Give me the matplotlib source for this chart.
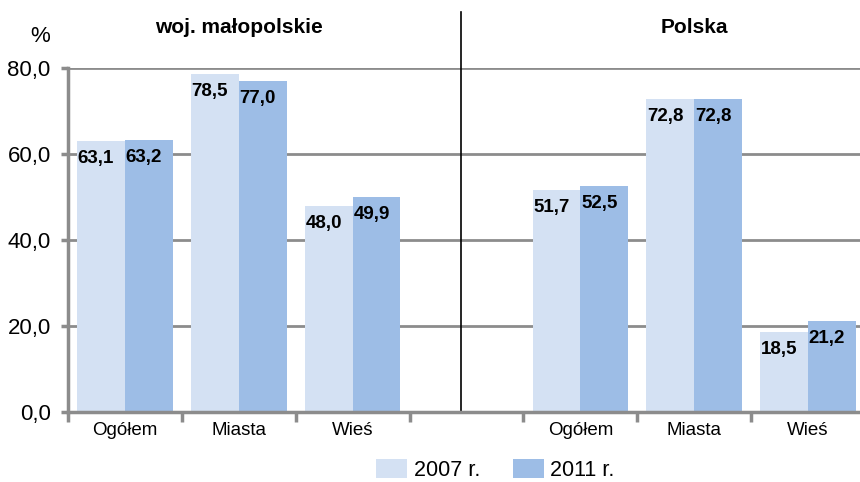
import numpy as np
import matplotlib.pyplot as plt

plt.rcParams["font.family"] = ["Liberation Sans", "DejaVu Sans"]

categories = ["Ogółem", "Miasta", "Wieś", "", "Ogółem", "Miasta", "Wieś"]
values_2007 = [63.1, 78.5, 48.0, None, 51.7, 72.8, 18.5]
values_2011 = [63.2, 77.0, 49.9, None, 52.5, 72.8, 21.2]
series_names = ["2007 r.", "2011 r."]
yticks = [0, 20, 40, 60, 80]

c2007 = "#D4E1F3"
c2011 = "#9DBDE6"
grey = "#8C8C8C"

fig = plt.figure(figsize=(8.6, 4.82), dpi=100)
ax = fig.add_axes([68 / 860, 70 / 482, 797 / 860, 344 / 482])

x = np.arange(len(categories))
w = 0.42
for i, (a, b) in enumerate(zip(values_2007, values_2011)):
    if a is None:
        continue
    ax.bar(i - w / 2, a, w, color=c2007, label=series_names[0] if i == 0 else None)
    ax.bar(i + w / 2, b, w, color=c2011, label=series_names[1] if i == 0 else None)
    for xpos, v in ((i - w, a), (i, b)):
        ax.annotate(f"{v:.1f}".replace(".", ","), (xpos, v), xytext=(0.5, -6.5),
                    textcoords="offset points", ha="left", va="top",
                    fontsize=13.5, fontweight="bold", color="black")

ax.set_xlim(-0.5, 6.5)
ax.set_ylim(0, 80)
ax.set_yticks(yticks)
ax.set_yticklabels([f"{t:.1f}".replace(".", ",") for t in yticks], fontsize=16)
ax.set_xticks(np.arange(-0.5, 6.0, 1.0))
ax.set_xticklabels([])
ax.set_xticks(x, minor=True)
ax.set_xticklabels(categories, minor=True, fontsize=13.5)
ax.tick_params(axis="x", which="minor", length=0, pad=7)
ax.tick_params(axis="x", which="major", length=7, width=2.5, color=grey, direction="out")
ax.tick_params(axis="y", length=5, width=2.5, color=grey, pad=7.5)

ax.yaxis.grid(True, color=grey, linewidth=2)
ax.set_axisbelow(True)
for s in ("top", "right"):
    ax.spines[s].set_visible(False)
for s in ("left", "bottom"):
    ax.spines[s].set_color(grey)
    ax.spines[s].set_linewidth(2.5)
    ax.spines[s].set_zorder(3)

# separator between regions
ax.plot([2.95, 2.95], [0, 93], color="black", linewidth=1.2, clip_on=False)

ax.text(1.0, 89.5, "woj. małopolskie", ha="center", va="center", fontsize=15, fontweight="bold")
ax.text(5.0, 89.5, "Polska", ha="center", va="center", fontsize=15, fontweight="bold")
fig.text(40 / 860, 1 - 37 / 482, "%", ha="center", va="center", fontsize=16)

fig.legend(loc="center", bbox_to_anchor=(0.576, 1 - 470 / 482), ncol=2, frameon=False,
           fontsize=15.5, handlelength=1.45, handleheight=1.0, columnspacing=1.5,
           handletextpad=0.3)

fig.savefig("out.png", dpi=100)
